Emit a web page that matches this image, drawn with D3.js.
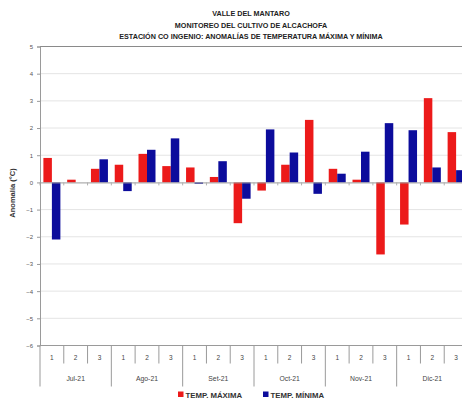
<!DOCTYPE html>
<html>
<head>
<meta charset="utf-8">
<script src="https://cdn.jsdelivr.net/npm/d3@7"></script>
<style>
  body { margin: 0; background: #fff; }
  svg { display: block; font-family: "Liberation Sans", Arial, sans-serif; }
</style>
</head>
<body>
<svg width="462" height="403"></svg>
<script>
// ---------------- data ----------------
var months = ["Jul-21", "Ago-21", "Set-21", "Oct-21", "Nov-21", "Dic-21"];
var decades = ["1", "2", "3"];
var tempMax = [0.9, 0.1, 0.5, 0.65, 1.05, 0.6, 0.55, 0.2, -1.5, -0.3, 0.65, 2.3, 0.5, 0.1, -2.65, -1.55, 3.1, 1.85];
var tempMin = [-2.1, 0, 0.85, -0.32, 1.2, 1.62, -0.05, 0.78, -0.6, 1.95, 1.1, -0.42, 0.32, 1.13, 2.18, 1.92, 0.55, 0.45];
var yTicks = [5, 4, 3, 2, 1, 0, -1, -2, -3, -4, -5, -6];
var titleLines = ["VALLE DEL MANTARO", "MONITOREO DEL CULTIVO DE ALCACHOFA",
  "ESTACIÓN CO INGENIO: ANOMALÍAS DE TEMPERATURA MÁXIMA Y MÍNIMA"];
var seriesNames = ["TEMP. MÁXIMA", "TEMP. MÍNIMA"];
var seriesColors = ["#ec1a1a", "#0c0c9c"];

// categories: month + decade
var cats = [];
months.forEach(function(m) {
  decades.forEach(function(dd) { cats.push({month: m, dec: dd, key: m + "_" + dd}); });
});
cats.forEach(function(c, i) { c.max = tempMax[i]; c.min = tempMin[i]; });

var svg = d3.select("svg");
var margins = {left: 40, top: 46.5, right: -6, bottom: 57.5};
var plotW = 462 - margins.left - margins.right;
var plotH = 403 - margins.top - margins.bottom;

var xScale = d3.scaleBand()
  .domain(cats.map(function(c) { return c.key; }))
  .range([0, plotW])
  .padding(0);
var xInner = d3.scaleBand()
  .domain(["max", "min"])
  .range([0, xScale.bandwidth()])
  .paddingInner(0)
  .paddingOuter(0.4);
var yScale = d3.scaleLinear()
  .domain([-6, 5])
  .range([plotH, 0]);

var plot = svg.append("g")
  .attr("transform", "translate(" + margins.left + "," + margins.top + ")");

// gridlines
plot.selectAll("line.grid")
  .data(yTicks.filter(function(t) { return t != 5 && t != -6 && t != 0; }))
  .enter()
  .append("line")
  .attr("class", "grid")
  .attr("x1", 0).attr("x2", plotW)
  .attr("y1", function(d) { return yScale(d); })
  .attr("y2", function(d) { return yScale(d); })
  .attr("stroke", "#e4e4e4")
  .attr("stroke-width", 1);

// top border
plot.append("line")
  .attr("x1", 0).attr("x2", plotW)
  .attr("y1", yScale(5)).attr("y2", yScale(5))
  .attr("stroke", "#8a8a8a").attr("stroke-width", 1.2);

// bars
var groups = plot.selectAll("g.cat")
  .data(cats)
  .enter()
  .append("g")
  .attr("class", "cat")
  .attr("transform", function(d) { return "translate(" + xScale(d.key) + ",0)"; });

groups.append("rect")
  .attr("x", xInner("max"))
  .attr("width", xInner.bandwidth())
  .attr("y", function(d) { return yScale(Math.max(0, d.max)); })
  .attr("height", function(d) { return Math.abs(yScale(d.max) - yScale(0)); })
  .attr("fill", seriesColors[0]);

groups.append("rect")
  .attr("x", xInner("min"))
  .attr("width", xInner.bandwidth())
  .attr("y", function(d) { return yScale(Math.max(0, d.min)); })
  .attr("height", function(d) { return Math.abs(yScale(d.min) - yScale(0)); })
  .attr("fill", seriesColors[1]);

// zero axis with small ticks at category boundaries
var zeroAxis = d3.axisBottom(xScale).tickSize(3).tickFormat("");
var zg = plot.append("g")
  .attr("transform", "translate(0," + yScale(0) + ")")
  .call(zeroAxis);
zg.select(".domain").attr("stroke", "#9a9a9a");
zg.selectAll(".tick line")
  .attr("stroke", "#b0b0b0")
  .attr("transform", "translate(" + (-xScale.bandwidth() / 2) + ",0)");

// y axis
var yAxis = d3.axisLeft(yScale).tickValues(yTicks).tickSize(3).tickFormat(d3.format("d"));
var yg = plot.append("g").call(yAxis);
yg.select(".domain").attr("stroke", "#9a9a9a");
yg.selectAll(".tick line").attr("stroke", "#9a9a9a");
yg.selectAll(".tick text")
  .attr("font-size", 6).attr("fill", "#555").attr("x", -7);

// bottom line
plot.append("line")
  .attr("x1", 0).attr("x2", plotW)
  .attr("y1", plotH).attr("y2", plotH)
  .attr("stroke", "#9a9a9a").attr("stroke-width", 1.2);

// decade ticks and labels
var bottom = plot.append("g").attr("transform", "translate(0," + plotH + ")");
bottom.selectAll("line.dec")
  .data(cats)
  .enter()
  .append("line")
  .attr("x1", function(d) { return xScale(d.key); })
  .attr("x2", function(d) { return xScale(d.key); })
  .attr("y1", 0)
  .attr("y2", function(d) { return d.dec == "1" ? 41 : 18; })
  .attr("stroke", "#9a9a9a");
bottom.selectAll("text.dec")
  .data(cats)
  .enter()
  .append("text")
  .attr("x", function(d) { return xScale(d.key) + xScale.bandwidth() / 2; })
  .attr("y", 14)
  .attr("text-anchor", "middle")
  .attr("font-size", 6.5)
  .attr("fill", "#444")
  .text(function(d) { return d.dec; });
bottom.selectAll("text.month")
  .data(months)
  .enter()
  .append("text")
  .attr("x", function(m) { return xScale(m + "_2") + xScale.bandwidth() / 2; })
  .attr("y", 35)
  .attr("text-anchor", "middle")
  .attr("font-size", 6.8)
  .attr("fill", "#444")
  .text(function(m) { return m; });

// y title
svg.append("text")
  .attr("transform", "translate(15,193) rotate(-90)")
  .attr("text-anchor", "middle")
  .attr("font-size", 7.5)
  .attr("font-weight", "bold")
  .attr("fill", "#333")
  .text("Anomalía (°C)");

// title
svg.selectAll("text.title")
  .data(titleLines)
  .enter()
  .append("text")
  .attr("x", 251)
  .attr("y", function(d, i) { return 16 + i * 11.5; })
  .attr("text-anchor", "middle")
  .attr("font-size", 7.2)
  .attr("font-weight", "bold")
  .attr("fill", "#222")
  .text(function(d) { return d; });

// legend
var legend = svg.append("g");
var legendX = [178, 263];
seriesNames.forEach(function(name, i) {
  legend.append("rect")
    .attr("x", legendX[i]).attr("y", 391.5)
    .attr("width", 5.5).attr("height", 5.5)
    .attr("fill", seriesColors[i]);
  legend.append("text")
    .attr("x", legendX[i] + 7.5).attr("y", 397.5)
    .attr("font-size", 7.8)
    .attr("font-weight", "bold")
    .attr("fill", "#333")
    .text(name);
});
</script>
</body>
</html>
